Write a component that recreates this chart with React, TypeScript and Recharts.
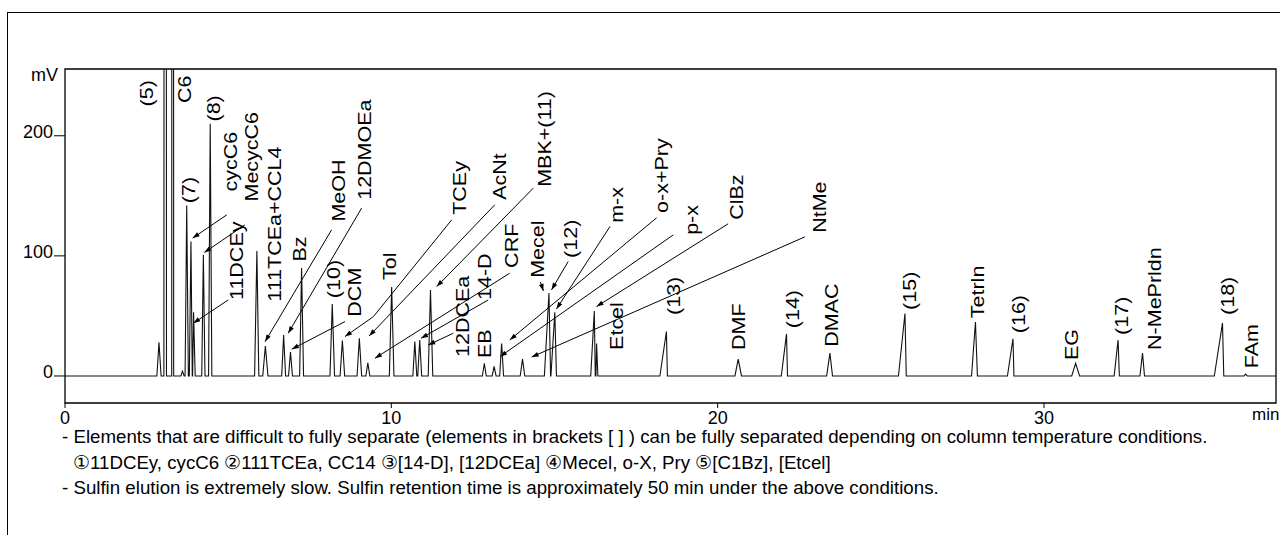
import { ComposedChart, Line, Scatter, XAxis, YAxis, ReferenceArea, ReferenceLine } from 'recharts';

const X_MAX = 37.11;
const Y_MIN = -22.5;
const Y_MAX = 255.6;

// retention time (min) / height (mV) / front and tail half-width (min)
const peakTimes = [
  2.88, 3.07, 3.3, 3.6, 3.73, 3.86, 3.94, 4.24, 4.45, 5.88, 6.14, 6.7, 6.91, 7.25, 8.19, 8.5,
  9.02, 9.28, 10.01, 10.72, 10.87, 11.2, 12.85, 13.15, 13.38, 14.02, 14.83, 15.01, 16.22, 16.29,
  18.43, 20.63, 22.11, 23.44, 25.74, 27.9, 29.05, 30.97, 32.27, 33.02, 35.47, 36.18,
];
const peakHeights = [
  28, 3000, 3000, 4, 142, 112, 53, 101, 210, 104, 25, 34, 20, 90, 60, 29.5,
  31.4, 11, 74, 28.6, 30, 71.5, 10.6, 8, 27, 14, 69, 53, 54, 27,
  37, 14, 35, 19, 52, 45, 31, 10.6, 30, 19, 44, 1.5,
];
const peakFront = [
  0.065, 0.04, 0.03, 0.05, 0.05, 0.05, 0.03, 0.05, 0.05, 0.07, 0.08, 0.06, 0.06, 0.06, 0.07, 0.07,
  0.07, 0.06, 0.07, 0.06, 0.06, 0.07, 0.06, 0.06, 0.06, 0.07, 0.14, 0.12, 0.11, 0.02,
  0.2, 0.1, 0.16, 0.1, 0.2, 0.12, 0.17, 0.12, 0.12, 0.08, 0.25, 0.05,
];
const peakTail = [
  0.065, 0.04, 0.03, 0.05, 0.05, 0.04, 0.05, 0.05, 0.05, 0.06, 0.08, 0.06, 0.06, 0.06, 0.07, 0.07,
  0.07, 0.06, 0.07, 0.06, 0.06, 0.07, 0.06, 0.06, 0.06, 0.07, 0.05, 0.05, 0.03, 0.04,
  0.03, 0.1, 0.03, 0.08, 0.04, 0.06, 0.03, 0.12, 0.04, 0.06, 0.04, 0.05,
];

// peak names, placed at (time, level) = bottom of the rotated text
const labelNames = [
  '(5)', 'C6', '(7)', '(8)', 'cycC6', 'MecycC6', '11DCEy', '111TCEa+CCL4', 'Bz', 'MeOH', '12DMOEa',
  '(10)', 'DCM', 'Tol', 'TCEy', 'AcNt', 'MBK+(11)', '12DCEa', '14-D', 'EB', 'CRF', 'Mecel', '(12)',
  'm-x', 'o-x+Pry', 'p-x', 'ClBz', 'NtMe', 'Etcel', '(13)', 'DMF', '(14)', 'DMAC', '(15)', 'Tetrln',
  '(16)', 'EG', '(17)', 'N-MePrldn', '(18)', 'FAm',
];
const labelTimes = [
  2.5, 3.65, 3.78, 4.54, 5.06, 5.72, 5.26, 6.43, 7.2, 8.37, 9.19,
  8.22, 8.88, 9.96, 12.1, 13.33, 14.71, 12.19, 12.87, 12.87, 13.69, 14.49, 15.5,
  16.9, 18.28, 19.2, 20.58, 23.13, 16.9, 18.64, 20.63, 22.31, 23.49, 25.89, 27.98,
  29.21, 30.84, 32.37, 33.39, 35.64, 36.36,
];
const labelLevels = [
  224.4, 227.3, 143.9, 211.9, 153.6, 145.3, 63.3, 61.9, 95.3, 128.6, 146.7,
  64.8, 49.4, 80, 134.2, 146.7, 157.5, 15.8, 63.3, 15, 90, 81.7, 98.3,
  127.5, 135.8, 117.5, 130, 119.2, 21.7, 50.8, 21.7, 39.8, 24.4, 55, 48.1,
  35.6, 13.3, 34.2, 21.7, 50.8, 6.4,
];

// leader lines from a label to its peak, [min, mV] points, arrow at the last one
const pointers: [number, number][][] = [
  [[4.96, 134.2], [3.91, 114.8]],
  [[5.51, 125.8], [4.27, 102.8]],
  [[5.0, 63.3], [3.93, 43.9]],
  [[8.17, 121.7], [6.13, 28.6]],
  [[9.09, 139.8], [6.84, 35.6]],
  [[8.58, 45.3], [6.95, 22.3]],
  [[11.85, 130], [9.45, 49.4], [8.58, 32.8]],
  [[13.17, 142.5], [9.32, 33.3]],
  [[13.63, 85.6], [9.5, 14.8]],
  [[11.9, 35.6], [11.13, 25.8]],
  [[12.97, 63.3], [10.91, 31.4]],
  [[14.35, 156.4], [11.39, 74.4]],
  [[14.57, 78.3], [14.66, 70.8]],
  [[15.42, 95.3], [14.91, 71.7]],
  [[16.7, 124.4], [15.06, 55.8]],
  [[18.13, 131.7], [13.63, 30]],
  [[18.64, 117.5], [13.33, 16.1]],
  [[20.32, 126.7], [16.29, 57.8]],
  [[22.67, 115.8], [14.3, 15.8]],
];

const xTicks = [0, 10, 20, 30];
const yTicks = [0, 100, 200];

const notes = [
  '- Elements that are difficult to fully separate (elements in brackets [ ] ) can be fully separated depending on column temperature conditions.',
  '\u246011DCEy, cycC6 \u2461111TCEa, CC14 \u2462[14-D], [12DCEa] \u2463Mecel, o-X, Pry \u2464[C1Bz], [Etcel]',
  '- Sulfin elution is extremely slow. Sulfin retention time is approximately 50 min under the above conditions.',
];

const FONT = '"Liberation Sans", Arial, Helvetica, sans-serif';

function peakValue(i: number, t: number) {
  const p = peakTimes[i];
  const a = p - peakFront[i];
  const b = p + peakTail[i];
  if (t <= a || t >= b) return 0;
  return t <= p ? (peakHeights[i] * (t - a)) / peakFront[i] : (peakHeights[i] * (b - t)) / peakTail[i];
}

function buildTrace() {
  const keys: number[] = [0, X_MAX];
  peakTimes.forEach((p, i) => keys.push(p - peakFront[i], p, p + peakTail[i]));
  keys.sort((a, b) => a - b);
  return keys.map((t) => ({ t, v: Math.max(0, ...peakTimes.map((_, i) => peakValue(i, t))) }));
}

const trace = buildTrace();
const labels = labelNames.map((name, i) => ({ name, t: labelTimes[i], v: labelLevels[i] }));

const RotatedLabel = (p: any) => (
  <text
    transform={`translate(${p.cx} ${p.cy}) rotate(-90) scale(1 0.85)`}
    x={0}
    y={0}
    textAnchor="start"
    dominantBaseline="central"
    fontSize={21.5}
    fontFamily={FONT}
    fill="#000"
  >
    {p.payload.name}
  </text>
);

const Pointer = (p: any) => {
  const { x1, y1, x2, y2, head } = p;
  const dx = x2 - x1;
  const dy = y2 - y1;
  const len = Math.hypot(dx, dy) || 1;
  const ux = dx / len;
  const uy = dy / len;
  const bx = x2 - ux * 7;
  const by = y2 - uy * 7;
  return (
    <g>
      <line x1={x1} y1={y1} x2={x2} y2={y2} stroke="#000" strokeWidth={1} />
      {head && (
        <polygon
          points={`${x2},${y2} ${bx - uy * 2.4},${by + ux * 2.4} ${bx + uy * 2.4},${by - ux * 2.4}`}
          fill="#000"
        />
      )}
    </g>
  );
};

const XTick = (p: any) => (
  <text x={p.x} y={p.y} dy="0.71em" textAnchor="middle" fontSize={18} fontFamily={FONT} fill="#000">
    {p.payload.value}
  </text>
);

const YTick = (p: any) => (
  <text x={p.x} y={p.y - 4} dy="0.35em" textAnchor="end" fontSize={18} fontFamily={FONT} fill="#000">
    {p.payload.value}
  </text>
);

export default function App() {
  return (
    <div style={{ position: 'absolute', left: 0, top: 0, width: 1280, height: 535, background: '#fff', overflow: 'hidden' }}>
      <div style={{ position: 'absolute', left: 7, top: 12, right: 0, bottom: 0, borderLeft: '1px solid #000', borderTop: '1px solid #000' }} />
      <div style={{ position: 'absolute', left: 0, top: 0 }}>
        <ComposedChart width={1280} height={535} margin={{ top: 69, right: 4, bottom: 0, left: 0 }}>
          <XAxis
            type="number"
            dataKey="t"
            domain={[0, X_MAX]}
            ticks={xTicks}
            allowDataOverflow
            height={132}
            axisLine={false}
            tickLine={{ stroke: '#000' }}
            tickSize={5}
            tickMargin={3}
            tick={<XTick />}
          />
          <YAxis
            type="number"
            domain={[Y_MIN, Y_MAX]}
            ticks={yTicks}
            allowDataOverflow
            width={65}
            axisLine={false}
            tickLine={{ stroke: '#000' }}
            tickSize={11}
            tickMargin={1}
            tick={<YTick />}
          />
          <ReferenceArea x1={0} x2={X_MAX} y1={Y_MIN} y2={Y_MAX} fill="none" fillOpacity={0} stroke="#000" strokeWidth={1.3} />
          {pointers.map((pts, k) =>
            pts.slice(1).map((q, j) => (
              <ReferenceLine
                key={`p${k}-${j}`}
                segment={[
                  { x: pts[j][0], y: pts[j][1] },
                  { x: q[0], y: q[1] },
                ]}
                shape={(sp: any) => <Pointer {...sp} head={j === pts.length - 2} />}
              />
            )),
          )}
          <Line
            data={trace}
            dataKey="v"
            type="linear"
            stroke="#111"
            strokeWidth={1.1}
            dot={false}
            isAnimationActive={false}
          />
          <Scatter data={labels} dataKey="v" shape={<RotatedLabel />} isAnimationActive={false} />
        </ComposedChart>
      </div>
      <div style={{ position: 'absolute', left: 31, top: 65, fontFamily: FONT, fontSize: 18 }}>mV</div>
      <div style={{ position: 'absolute', left: 1252, top: 405, fontFamily: FONT, fontSize: 17 }}>min</div>
      {notes.map((n, i) => (
        <div
          key={i}
          style={{
            position: 'absolute',
            left: i === 1 ? 73 : 62,
            top: 427 + i * 25.5,
            fontFamily: FONT,
            fontSize: 18.7,
            whiteSpace: 'pre',
            lineHeight: '20px',
          }}
        >
          {n}
        </div>
      ))}
    </div>
  );
}
